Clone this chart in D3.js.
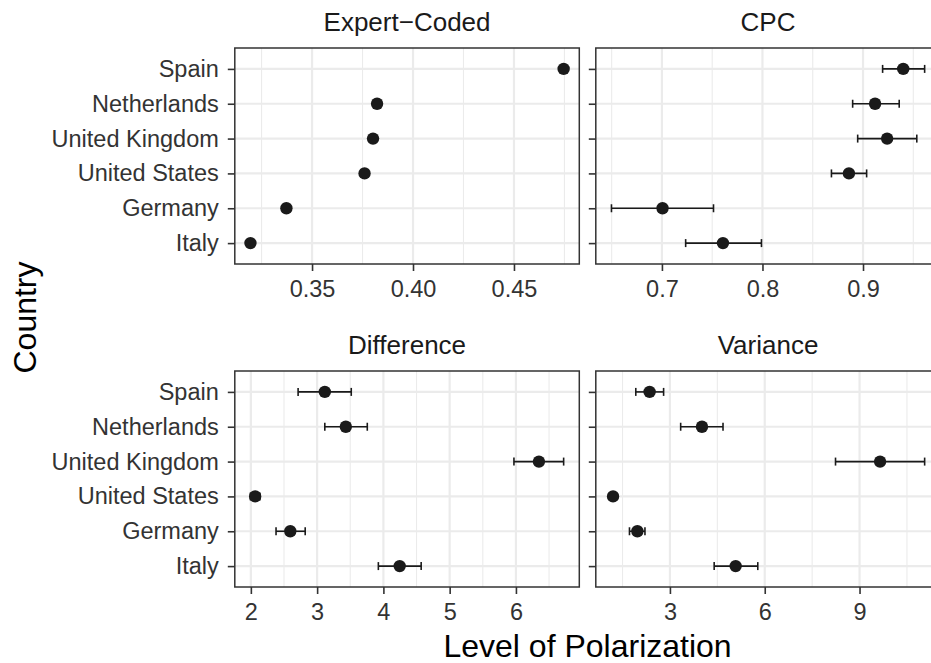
<!DOCTYPE html>
<html>
<head>
<meta charset="utf-8">
<script src="https://cdn.jsdelivr.net/npm/d3@7"></script>
<style>
  body { margin: 0; background: #fff; }
  svg { display: block; font-family: "Liberation Sans", Arial, Helvetica, sans-serif; }
</style>
</head>
<body>
<svg width="931" height="663"></svg>
<script>
(function (d3) {
  'use strict';

  // countries, top to bottom
  const countries = ['Spain', 'Netherlands', 'United Kingdom', 'United States', 'Germany', 'Italy'];

  const panelTitles = ['Expert\u2212Coded', 'CPC', 'Difference', 'Variance'];

  const expertEst = [0.4746, 0.3822, 0.3802, 0.3760, 0.3373, 0.3195];

  const cpcEst = [0.940, 0.912, 0.924, 0.886, 0.7006, 0.7607];
  const cpcLow = [0.9195, 0.8897, 0.8947, 0.8686, 0.6498, 0.7236];
  const cpcHigh = [0.9613, 0.936, 0.9535, 0.9036, 0.7513, 0.799];

  const diffEst = [3.116, 3.433, 6.347, 2.065, 2.595, 4.246];
  const diffLow = [2.713, 3.116, 5.97, 1.994, 2.38, 3.924];
  const diffHigh = [3.515, 3.757, 6.72, 2.136, 2.82, 4.57];

  const varEst = [2.357, 4.014, 9.65, 1.2, 1.97, 5.08];
  const varLow = [1.92, 3.34, 8.24, 1.15, 1.72, 4.40];
  const varHigh = [2.8, 4.68, 11.06, 1.25, 2.21, 5.78];

  const expertTicks = [0.35, 0.40, 0.45];
  const expertTickLabels = ['0.35', '0.40', '0.45'];
  const cpcTicks = [0.7, 0.8, 0.9];
  const cpcTickLabels = ['0.7', '0.8', '0.9'];
  const diffTicks = [2, 3, 4, 5, 6];
  const diffTickLabels = ['2', '3', '4', '5', '6'];
  const varTicks = [3, 6, 9];
  const varTickLabels = ['3', '6', '9'];

  const xAxisLabelText = 'Level of Polarization';
  const yAxisLabelText = 'Country';

  const toRows = (est, low, high) => countries.map((c, i) => ({
    country: c,
    est: est[i],
    low: low ? low[i] : null,
    high: high ? high[i] : null
  }));

  const panels = [
    { title: panelTitles[0], rows: toRows(expertEst), ticks: expertTicks, labels: expertTickLabels, col: 0, row: 0 },
    { title: panelTitles[1], rows: toRows(cpcEst, cpcLow, cpcHigh), ticks: cpcTicks, labels: cpcTickLabels, col: 1, row: 0 },
    { title: panelTitles[2], rows: toRows(diffEst, diffLow, diffHigh), ticks: diffTicks, labels: diffTickLabels, col: 0, row: 1 },
    { title: panelTitles[3], rows: toRows(varEst, varLow, varHigh), ticks: varTicks, labels: varTickLabels, col: 1, row: 1 }
  ];

  const svg = d3.select('svg');

  const panelW = 344.5;
  const panelH = 216;
  const colX = [234.8, 595.8];
  const rowY = [48, 371];

  const tickColor = '#333333';
  const gridColor = '#EBEBEB';
  const labelColor = '#333333';

  const yScale = d3.scalePoint()
    .domain(countries)
    .range([0, panelH])
    .padding(0.6);

  panels.forEach(p => {
    const lo = d3.min(p.rows, d => d.low != null ? Math.min(d.low, d.est) : d.est);
    const hi = d3.max(p.rows, d => d.high != null ? Math.max(d.high, d.est) : d.est);
    const pad = (hi - lo) * 0.05;
    const xScale = d3.scaleLinear()
      .domain([lo - pad, hi + pad])
      .range([0, panelW]);

    const g = svg.append('g')
      .attr('transform', `translate(${colX[p.col]},${rowY[p.row]})`);

    // minor grid at midpoints between breaks
    const step = p.ticks[1] - p.ticks[0];
    const minor = [p.ticks[0] - step / 2].concat(p.ticks.map(t => t + step / 2))
      .filter(v => v >= xScale.domain()[0] && v <= xScale.domain()[1]);

    g.selectAll('.minor').data(minor)
      .enter().append('line')
        .attr('x1', d => xScale(d)).attr('x2', d => xScale(d))
        .attr('y1', 0).attr('y2', panelH)
        .attr('stroke', gridColor).attr('stroke-width', 1.1);

    g.selectAll('.major-x').data(p.ticks)
      .enter().append('line')
        .attr('x1', d => xScale(d)).attr('x2', d => xScale(d))
        .attr('y1', 0).attr('y2', panelH)
        .attr('stroke', gridColor).attr('stroke-width', 2.2);

    g.selectAll('.major-y').data(countries)
      .enter().append('line')
        .attr('x1', 0).attr('x2', panelW)
        .attr('y1', d => yScale(d)).attr('y2', d => yScale(d))
        .attr('stroke', gridColor).attr('stroke-width', 2.2);

    // error bars
    const bars = p.rows.filter(d => d.low != null);
    const cap = 4;
    g.selectAll('.err').data(bars)
      .enter().append('line')
        .attr('x1', d => xScale(d.low)).attr('x2', d => xScale(d.high))
        .attr('y1', d => yScale(d.country)).attr('y2', d => yScale(d.country))
        .attr('stroke', '#1a1a1a').attr('stroke-width', 1.6);
    ['low', 'high'].forEach(k => {
      g.selectAll('.cap-' + k).data(bars)
        .enter().append('line')
          .attr('x1', d => xScale(d[k])).attr('x2', d => xScale(d[k]))
          .attr('y1', d => yScale(d.country) - cap).attr('y2', d => yScale(d.country) + cap)
          .attr('stroke', '#1a1a1a').attr('stroke-width', 1.6);
    });

    g.selectAll('.dot').data(p.rows)
      .enter().append('circle')
        .attr('cx', d => xScale(d.est))
        .attr('cy', d => yScale(d.country))
        .attr('r', 6.2)
        .attr('fill', '#1a1a1a');

    g.append('rect')
      .attr('width', panelW).attr('height', panelH)
      .attr('fill', 'none')
      .attr('stroke', tickColor).attr('stroke-width', 1.5);

    // x axis
    const xAxisG = g.append('g')
      .attr('transform', `translate(0,${panelH})`)
      .call(d3.axisBottom(xScale)
        .tickValues(p.ticks)
        .tickFormat((d, i) => p.labels[i])
        .tickSize(7)
        .tickPadding(9.5));
    xAxisG.select('.domain').remove();
    xAxisG.selectAll('.tick line').attr('stroke', tickColor).attr('stroke-width', 1.6);
    xAxisG.selectAll('.tick text')
      .attr('fill', labelColor)
      .style('font-size', '23.5px')
      .style('font-family', '"Liberation Sans", Arial, sans-serif');

    // y axis (labels only on left column)
    const yAxisG = g.append('g')
      .call(d3.axisLeft(yScale).tickSize(7).tickPadding(9));
    yAxisG.select('.domain').remove();
    yAxisG.selectAll('.tick line').attr('stroke', tickColor).attr('stroke-width', 1.6);
    yAxisG.selectAll('.tick text')
      .attr('fill', labelColor)
      .style('font-size', '23.5px')
      .style('font-family', '"Liberation Sans", Arial, sans-serif');
    if (p.col === 1) yAxisG.selectAll('.tick text').remove();

    // strip title
    g.append('text')
      .attr('x', panelW / 2)
      .attr('y', -17)
      .attr('text-anchor', 'middle')
      .attr('fill', '#1A1A1A')
      .style('font-size', '26px')
      .text(p.title);
  });

  svg.append('text')
    .attr('x', (colX[0] + colX[1] + panelW) / 2)
    .attr('y', 656.5)
    .attr('text-anchor', 'middle')
    .attr('fill', '#000')
    .style('font-size', '32px')
    .text(xAxisLabelText);

  svg.append('text')
    .attr('transform', `translate(36,${rowY[0] + (rowY[1] + panelH - rowY[0]) / 2}) rotate(-90)`)
    .attr('text-anchor', 'middle')
    .attr('fill', '#000')
    .style('font-size', '32px')
    .text(yAxisLabelText);

}(d3));
</script>
</body>
</html>
